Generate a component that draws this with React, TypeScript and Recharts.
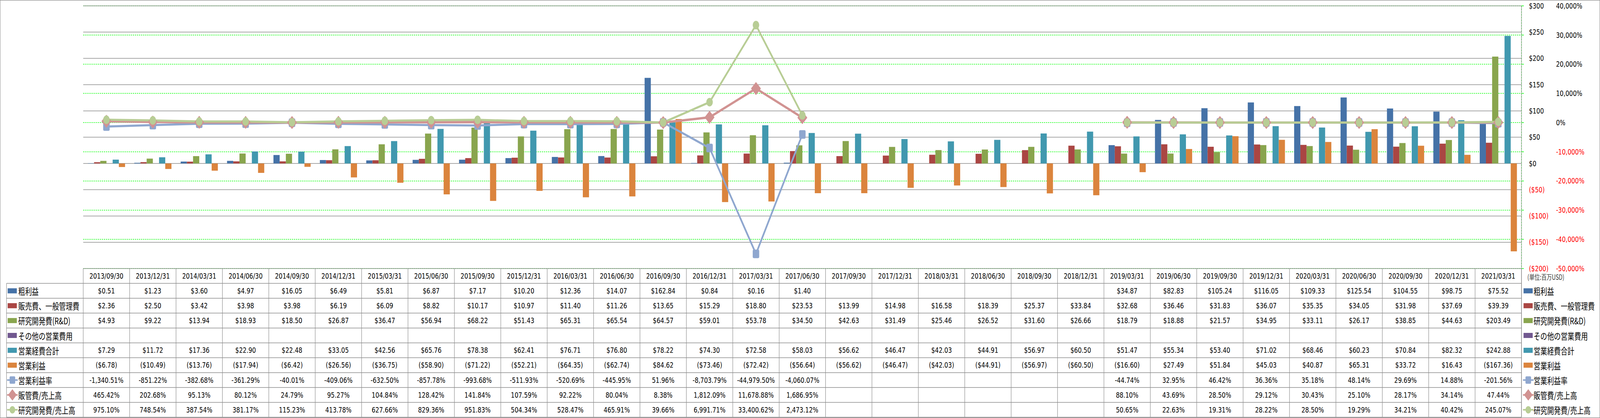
import React from "react";
import { ComposedChart, Bar, Line, XAxis, YAxis, CartesianGrid } from "recharts";

// ---- data (百万USD / %) ----------------------------------------------------

const DATES = [
  "2013/09/30", "2013/12/31", "2014/03/31", "2014/06/30", "2014/09/30", "2014/12/31",
  "2015/03/31", "2015/06/30", "2015/09/30", "2015/12/31", "2016/03/31", "2016/06/30",
  "2016/09/30", "2016/12/31", "2017/03/31", "2017/06/30", "2017/09/30", "2017/12/31",
  "2018/03/31", "2018/06/30", "2018/09/30", "2018/12/31", "2019/03/31", "2019/06/30",
  "2019/09/30", "2019/12/31", "2020/03/31", "2020/06/30", "2020/09/30", "2020/12/31",
  "2021/03/31",
];

const GROSS_PROFIT = [
  0.51, 1.23, 3.6, 4.97, 16.05, 6.49, 5.81, 6.87, 7.17, 10.2, 12.36, 14.07, 162.84, 0.84, 0.16, 1.4,
  null, null, null, null, null, null,
  34.87, 82.83, 105.24, 116.05, 109.33, 125.54, 104.55, 98.75, 75.52,
];

const SGA = [
  2.36, 2.5, 3.42, 3.98, 3.98, 6.19, 6.09, 8.82, 10.17, 10.97, 11.4, 11.26, 13.65, 15.29, 18.8, 23.53,
  13.99, 14.98, 16.58, 18.39, 25.37, 33.84, 32.68, 36.46, 31.83, 36.07, 35.35, 34.05, 31.98, 37.69, 39.39,
];

const RND = [
  4.93, 9.22, 13.94, 18.93, 18.5, 26.87, 36.47, 56.94, 68.22, 51.43, 65.31, 65.54, 64.57, 59.01, 53.78, 34.5,
  42.63, 31.49, 25.46, 26.52, 31.6, 26.66, 18.79, 18.88, 21.57, 34.95, 33.11, 26.17, 38.85, 44.63, 203.49,
];

const OTHER_OPEX = [
  null, null, null, null, null, null, null, null, null, null, null, null, null, null, null, null,
  null, null, null, null, null, null, null, null, null, null, null, null, null, null, null,
];

const TOTAL_OPEX = [
  7.29, 11.72, 17.36, 22.9, 22.48, 33.05, 42.56, 65.76, 78.38, 62.41, 76.71, 76.8, 78.22, 74.3, 72.58, 58.03,
  56.62, 46.47, 42.03, 44.91, 56.97, 60.5, 51.47, 55.34, 53.4, 71.02, 68.46, 60.23, 70.84, 82.32, 242.88,
];

const OP_INCOME = [
  -6.78, -10.49, -13.76, -17.94, -6.42, -26.56, -36.75, -58.9, -71.22, -52.21, -64.35, -62.74, 84.62, -73.46,
  -72.42, -56.64, -56.62, -46.47, -42.03, -44.91, -56.97, -60.5, -16.6, 27.49, 51.84, 45.03, 40.87, 65.31,
  33.72, 16.43, -167.36,
];

const OP_MARGIN = [
  -1340.51, -851.22, -382.68, -361.29, -40.01, -409.06, -632.5, -857.78, -993.68, -511.93, -520.69, -445.95,
  51.96, -8703.79, -44979.5, -4060.07,
  null, null, null, null, null, null,
  -44.74, 32.95, 46.42, 36.36, 35.18, 48.14, 29.69, 14.88, -201.56,
];

const SGA_RATIO = [
  465.42, 202.68, 95.13, 80.12, 24.79, 95.27, 104.84, 128.42, 141.84, 107.59, 92.22, 80.04, 8.38, 1812.09,
  11678.88, 1686.95,
  null, null, null, null, null, null,
  88.1, 43.69, 28.5, 29.12, 30.43, 25.1, 28.17, 34.14, 47.44,
];

const RND_RATIO = [
  975.1, 748.54, 387.54, 381.17, 115.23, 413.78, 627.66, 829.36, 951.83, 504.34, 528.47, 465.91, 39.66,
  6991.71, 33400.62, 2473.12,
  null, null, null, null, null, null,
  50.65, 22.63, 19.31, 28.22, 28.5, 19.29, 34.21, 40.42, 245.07,
];

const USD_TICKS = [-200, -150, -100, -50, 0, 50, 100, 150, 200, 250, 300];
const PCT_TICKS = [-50000, -40000, -30000, -20000, -10000, 0, 10000, 20000, 30000, 40000];

// ---- layout ---------------------------------------------------------------

const W = 5421;
const H = 1071;
const MARGIN = { top: 15, right: 1, bottom: 2, left: 282 };
const USD_AXIS_W = 93;
const PCT_AXIS_W = 172;
const ROW_H = 38.1;
const X_AXIS_H = ROW_H * 10;
const PLOT_RIGHT = W - MARGIN.right - USD_AXIS_W - PCT_AXIS_W;
const PLOT_BOTTOM = H - MARGIN.bottom - X_AXIS_H;
const TABLE_BOTTOM = PLOT_BOTTOM + X_AXIS_H;
const COL_W = (PLOT_RIGHT - MARGIN.left) / DATES.length;

const GRID = "#8c8c8c";
const GREEN = "#00ff00";
const NUM_FONT = "'DejaVu Sans', Verdana, sans-serif";
const JP_FONT = "'Noto Sans CJK JP', 'DejaVu Sans', sans-serif";

type Kind = "bar" | "square" | "diamond" | "circle";

const fmtUsd = (v: number | null) =>
  v == null ? "" : v < 0 ? `($${Math.abs(v).toFixed(2)})` : `$${v.toFixed(2)}`;
const fmtPct = (v: number | null) =>
  v == null
    ? ""
    : `${v.toLocaleString("en-US", { minimumFractionDigits: 2, maximumFractionDigits: 2 })}%`;

const SERIES: { key: string; label: string; color: string; kind: Kind; values: (number | null)[] }[] = [
  { key: "gp", label: "粗利益", color: "#4572a7", kind: "bar", values: GROSS_PROFIT },
  { key: "sga", label: "販売費、一般管理費", color: "#aa4643", kind: "bar", values: SGA },
  { key: "rnd", label: "研究開発費(R&D)", color: "#89a54e", kind: "bar", values: RND },
  { key: "other", label: "その他の営業費用", color: "#71588f", kind: "bar", values: OTHER_OPEX },
  { key: "opex", label: "営業経費合計", color: "#4198af", kind: "bar", values: TOTAL_OPEX },
  { key: "op", label: "営業利益", color: "#db843d", kind: "bar", values: OP_INCOME },
  { key: "opm", label: "営業利益率", color: "#8fa7cf", kind: "square", values: OP_MARGIN },
  { key: "sgaR", label: "販管費/売上高", color: "#d19392", kind: "diamond", values: SGA_RATIO },
  { key: "rndR", label: "研究開発費/売上高", color: "#b8cd95", kind: "circle", values: RND_RATIO },
];

const data = DATES.map((date, i) => {
  const row: Record<string, string | number | null> = { date };
  SERIES.forEach((s) => (row[s.key] = s.values[i]));
  return row;
});

function Marker({ kind, cx, cy, color, r = 11 }: { kind: Kind; cx: number; cy: number; color: string; r?: number }) {
  if (kind === "square")
    return <rect x={cx - r} y={cy - r} width={2 * r} height={2 * r} rx={r * 0.35} fill={color} />;
  if (kind === "diamond") {
    const d = r * 1.4;
    return (
      <polygon
        points={`${cx},${cy - d} ${cx + d},${cy} ${cx},${cy + d} ${cx - d},${cy}`}
        fill={color}
        stroke={color}
        strokeWidth={2}
        strokeLinejoin="round"
      />
    );
  }
  return <circle cx={cx} cy={cy} r={r} fill={color} />;
}

// one column of the data table under each category
function TableColumn(props: any) {
  const { x, index } = props;
  const i: number = props.payload?.index ?? index;
  const left = x - COL_W / 2;
  const right = x + COL_W / 2;
  return (
    <g>
      {i === 0 && <line x1={left} x2={left} y1={PLOT_BOTTOM} y2={TABLE_BOTTOM} stroke={GRID} strokeWidth={1.5} />}
      <line x1={right} x2={right} y1={PLOT_BOTTOM} y2={TABLE_BOTTOM} stroke={GRID} strokeWidth={1.5} />
      <text x={x} y={PLOT_BOTTOM + ROW_H / 2} textAnchor="middle" dominantBaseline="central"
        fontFamily={NUM_FONT} fontSize={20} fill="#000">
        {DATES[i]}
      </text>
      {SERIES.map((s, k) => (
        <text key={s.key} x={x} y={PLOT_BOTTOM + ROW_H * (k + 1) + ROW_H / 2} textAnchor="middle"
          dominantBaseline="central" fontFamily={NUM_FONT} fontSize={20} fill="#000">
          {s.kind === "bar" ? fmtUsd(s.values[i]) : fmtPct(s.values[i])}
        </text>
      ))}
    </g>
  );
}

function UsdTick(props: any) {
  const v: number = props.payload.value;
  const label = v < 0 ? `($${Math.abs(v)})` : `$${v}`;
  return (
    <text x={PLOT_RIGHT + 25} y={props.y} textAnchor="start" dominantBaseline="central"
      fontFamily={NUM_FONT} fontSize={20} fill={v < 0 ? "#ff0000" : "#000"}>
      {label}
    </text>
  );
}

function PctTick(props: any) {
  const v: number = props.payload.value;
  return (
    <text x={PLOT_RIGHT + USD_AXIS_W + 24} y={props.y} textAnchor="start" dominantBaseline="central"
      fontFamily={NUM_FONT} fontSize={20} fill={v < 0 ? "#ff0000" : "#000"}>
      {`${v.toLocaleString("en-US")}%`}
    </text>
  );
}

function LegendSwatch({ x, y, s }: { x: number; y: number; s: (typeof SERIES)[number] }) {
  if (s.kind === "bar")
    return <rect x={x} y={y - 6.5} width={31} height={13} fill={s.color} />;
  return (
    <g>
      <line x1={x - 2} x2={x + 34} y1={y} y2={y} stroke={s.color} strokeWidth={4} />
      <Marker kind={s.kind} cx={x + 16} cy={y} color={s.color} r={9.5} />
    </g>
  );
}

function Overlay() {
  const rows = SERIES.map((s, k) => ({ s, y: PLOT_BOTTOM + ROW_H * (k + 1) + ROW_H / 2 }));
  return (
    <svg width={W} height={H} style={{ position: "absolute", left: 0, top: 0, pointerEvents: "none" }}>
      <rect x={0.5} y={0.5} width={W - 1} height={H - 1} fill="none" stroke={GRID} strokeWidth={1.5} />
      {/* table frame */}
      {Array.from({ length: 10 }, (_, k) => PLOT_BOTTOM + ROW_H * (k + 1)).map((y, k) => (
        <line key={k} x1={22} x2={PLOT_RIGHT} y1={y} y2={y} stroke={GRID} strokeWidth={1.5} />
      ))}
      <line x1={22} x2={22} y1={PLOT_BOTTOM + ROW_H} y2={TABLE_BOTTOM} stroke={GRID} strokeWidth={1.5} />
      <line x1={PLOT_RIGHT} x2={PLOT_RIGHT} y1={MARGIN.top} y2={TABLE_BOTTOM} stroke={GRID} strokeWidth={1.5} />
      {/* row labels in the table */}
      {rows.map(({ s, y }) => (
        <g key={s.key}>
          <LegendSwatch x={26} y={y} s={s} />
          <text x={62} y={y} dominantBaseline="central" fontFamily={JP_FONT} fontSize={23} fill="#000">
            {s.label}
          </text>
        </g>
      ))}
      {/* right legend */}
      <text x={5175} y={PLOT_BOTTOM + ROW_H / 2 + 2} dominantBaseline="central" fontFamily={JP_FONT}
        fontSize={18} fill="#333">
        (単位:百万USD)
      </text>
      {rows.map(({ s, y }) => (
        <g key={s.key}>
          <LegendSwatch x={5162} y={y} s={s} />
          <text x={5196} y={y} dominantBaseline="central" fontFamily={JP_FONT} fontSize={23} fill="#000">
            {s.label}
          </text>
        </g>
      ))}
    </svg>
  );
}

export default function App() {
  const bars = SERIES.filter((s) => s.kind === "bar");
  const lines = SERIES.filter((s) => s.kind !== "bar");
  // the browser window may be narrower than the chart; squeeze horizontally to fit
  const sx = typeof window !== "undefined" ? Math.min(1, window.innerWidth / W) : 1;
  return (
    <div style={{ position: "absolute", left: 0, top: 0, width: W * sx, height: H, overflow: "hidden" }}>
      <div
        style={{
          position: "absolute",
          left: 0,
          top: 0,
          width: W,
          height: H,
          background: "#fff",
          transform: `scale(${sx}, 1)`,
          transformOrigin: "0 0",
        }}
      >
        <ComposedChart width={W} height={H} data={data} margin={MARGIN} barCategoryGap="10%" barGap={0}>
          <CartesianGrid yAxisId="pct" vertical={false} stroke={GREEN} strokeWidth={1.5} strokeDasharray="4 3" />
          <CartesianGrid yAxisId="usd" vertical={false} stroke={GRID} strokeWidth={1.5} />
          <XAxis dataKey="date" height={X_AXIS_H} interval={0} axisLine={false} tickLine={false}
            tick={(p: any) => <TableColumn {...p} />} />
          <YAxis yAxisId="usd" orientation="right" width={USD_AXIS_W} domain={[-200, 300]} ticks={USD_TICKS}
            axisLine={false} tickLine={false} tick={(p: any) => <UsdTick {...p} />} />
          <YAxis yAxisId="pct" orientation="right" width={PCT_AXIS_W} domain={[-50000, 40000]} ticks={PCT_TICKS}
            axisLine={{ stroke: GREEN, strokeWidth: 1.5, strokeDasharray: "4 3" }}
            tickLine={{ stroke: GREEN, strokeWidth: 1.5 }} tickSize={8}
            tick={(p: any) => <PctTick {...p} />} />
          {bars.map((s) => (
            <Bar key={s.key} yAxisId="usd" dataKey={s.key} fill={s.color} isAnimationActive={false} />
          ))}
          {lines.map((s) => (
            <Line key={s.key} yAxisId="pct" dataKey={s.key} stroke={s.color}
              strokeWidth={s.kind === "diamond" ? 6 : 5.5}
              isAnimationActive={false} activeDot={false}
              dot={(p: any) =>
                p.value == null || p.cy == null ? (
                  <g key={p.index} />
                ) : (
                  <Marker key={p.index} kind={s.kind} cx={p.cx} cy={p.cy} color={s.color} />
                )
              } />
          ))}
        </ComposedChart>
        <Overlay />
      </div>
    </div>
  );
}
